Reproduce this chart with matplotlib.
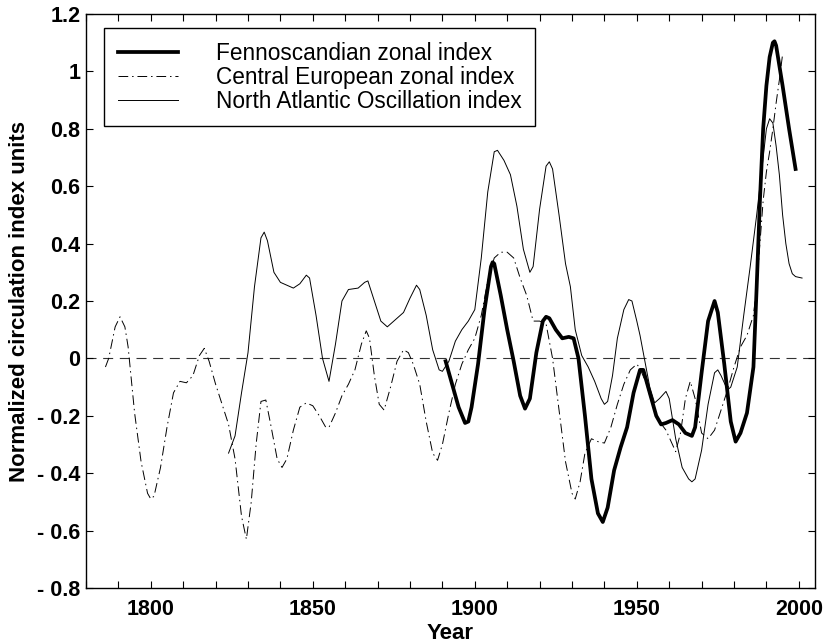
import matplotlib
matplotlib.use("Agg")
import matplotlib.pyplot as plt
from matplotlib.ticker import FixedLocator, FixedFormatter

plt.rcParams['font.family'] = ['Liberation Sans', 'DejaVu Sans']

# ---- data ----
nao_years = [1824, 1826, 1828, 1830, 1832, 1834, 1835, 1836, 1838, 1840, 1842, 1844, 1846, 1848, 1849,
             1851, 1853, 1855, 1857, 1859, 1861, 1864, 1866, 1867, 1869, 1871, 1873, 1875, 1878, 1880,
             1882, 1883, 1885, 1887, 1889, 1890, 1892, 1894, 1896, 1898, 1900, 1902, 1904, 1906, 1907,
             1909, 1911, 1913, 1915, 1917, 1918, 1920, 1922, 1923, 1924, 1926, 1928, 1929.5, 1931, 1933,
             1935, 1937, 1939, 1940, 1941, 1942.5, 1944, 1946, 1947.5, 1948.5, 1950, 1951, 1952.5, 1954,
             1955.5, 1957, 1959, 1960, 1962, 1964, 1966, 1967, 1968, 1970, 1972, 1974, 1975, 1976, 1978,
             1979, 1981, 1983, 1985, 1987, 1989, 1990, 1991, 1992, 1993, 1994, 1995, 1996, 1997, 1998,
             1999, 2001]
nao_values = [-0.33, -0.27, -0.12, 0.02, 0.25, 0.42, 0.44, 0.41, 0.30, 0.265, 0.255, 0.245, 0.26, 0.29, 0.28,
              0.15, 0.0, -0.08, 0.05, 0.20, 0.24, 0.245, 0.265, 0.27, 0.20, 0.13, 0.11, 0.13, 0.16, 0.21,
              0.255, 0.24, 0.15, 0.03, -0.04, -0.045, -0.01, 0.06, 0.10, 0.13, 0.17, 0.35, 0.58, 0.72, 0.725,
              0.69, 0.64, 0.53, 0.38, 0.30, 0.32, 0.52, 0.67, 0.685, 0.66, 0.50, 0.33, 0.25, 0.10, 0.01,
              -0.03, -0.08, -0.14, -0.16, -0.15, -0.06, 0.07, 0.17, 0.205, 0.20, 0.13, 0.08, -0.01, -0.10,
              -0.155, -0.14, -0.115, -0.14, -0.28, -0.38, -0.42, -0.43, -0.42, -0.32, -0.16, -0.05, -0.04, -0.06, -0.11,
              -0.10, -0.03, 0.15, 0.32, 0.50, 0.70, 0.80, 0.835, 0.82, 0.74, 0.64, 0.50, 0.40, 0.33, 0.295,
              0.285, 0.28]

fen_years = [1891, 1893, 1895, 1897, 1898, 1899, 1901, 1903, 1905, 1905.5, 1906, 1908, 1910, 1912, 1914,
             1915.5, 1917, 1919, 1921, 1922, 1923, 1925, 1927, 1929, 1930.5, 1932, 1934, 1936, 1938, 1939.5,
             1941, 1943, 1945, 1947, 1949, 1951, 1952, 1954, 1956, 1957.5, 1959, 1961, 1963, 1965, 1967,
             1968, 1970, 1972, 1974, 1975, 1977, 1979, 1980.5, 1982, 1984, 1986, 1987, 1988, 1989, 1990,
             1991, 1992, 1992.5, 1993, 1994, 1995, 1997, 1999]
fen_values = [-0.01, -0.09, -0.17, -0.225, -0.22, -0.17, -0.02, 0.17, 0.32, 0.335, 0.33, 0.22, 0.10, -0.01, -0.13,
              -0.175, -0.14, 0.02, 0.13, 0.145, 0.14, 0.10, 0.07, 0.075, 0.07, 0.0, -0.20, -0.42, -0.54, -0.57,
              -0.52, -0.39, -0.31, -0.24, -0.12, -0.04, -0.04, -0.12, -0.20, -0.23, -0.225, -0.215, -0.23, -0.26, -0.27,
              -0.24, -0.05, 0.13, 0.20, 0.16, -0.02, -0.22, -0.29, -0.26, -0.19, -0.03, 0.25, 0.55, 0.80, 0.95,
              1.05, 1.10, 1.105, 1.09, 1.02, 0.95, 0.80, 0.66]

ce_years = [1786, 1787, 1789, 1790.5, 1792, 1793, 1795, 1797, 1799, 1800, 1801, 1803, 1805, 1807, 1809,
            1811, 1813, 1815, 1816.5, 1818, 1820, 1822, 1824, 1826, 1828, 1829.5, 1831, 1832.5, 1834, 1835.5,
            1837, 1839, 1840.5, 1842, 1844, 1846, 1848, 1850, 1852, 1854, 1855, 1857, 1859, 1861, 1863,
            1865, 1866.5, 1867.5, 1869, 1870.5, 1872, 1874, 1876, 1878, 1879.5, 1881, 1883, 1885, 1887, 1888.5,
            1890, 1892, 1894, 1896, 1898, 1900, 1902, 1904, 1906, 1908, 1910, 1912, 1914, 1916, 1918,
            1920, 1922, 1924, 1926, 1928, 1930, 1931, 1932.5, 1934, 1936, 1938, 1940, 1942, 1944, 1946,
            1948, 1950, 1951, 1953, 1955, 1957, 1959, 1961, 1962, 1963.5, 1965, 1966.5, 1968, 1970, 1972,
            1974, 1976, 1978, 1980, 1982, 1984, 1986, 1987, 1988, 1989, 1990, 1991, 1992, 1993, 1994, 1995]
ce_values = [-0.03, 0.0, 0.11, 0.145, 0.11, 0.04, -0.19, -0.36, -0.47, -0.49, -0.48, -0.38, -0.24, -0.12, -0.08,
             -0.085, -0.06, 0.01, 0.035, -0.01, -0.09, -0.16, -0.23, -0.35, -0.55, -0.63, -0.50, -0.30, -0.15, -0.145,
             -0.23, -0.35, -0.38, -0.35, -0.25, -0.17, -0.155, -0.165, -0.20, -0.24, -0.24, -0.19, -0.13, -0.09, -0.04,
             0.05, 0.096, 0.07, -0.06, -0.16, -0.18, -0.10, -0.01, 0.03, 0.02, -0.02, -0.09, -0.22, -0.33, -0.355,
             -0.30, -0.19, -0.09, -0.02, 0.03, 0.07, 0.15, 0.27, 0.35, 0.37, 0.37, 0.35, 0.28, 0.22, 0.13,
             0.13, 0.12, 0.0, -0.18, -0.36, -0.47, -0.49, -0.43, -0.33, -0.28, -0.29, -0.295, -0.24, -0.16, -0.09,
             -0.04, -0.02, -0.035, -0.09, -0.17, -0.22, -0.25, -0.30, -0.325, -0.26, -0.14, -0.08, -0.14, -0.26, -0.28,
             -0.25, -0.18, -0.11, -0.03, 0.04, 0.08, 0.15, 0.25, 0.40, 0.55, 0.65, 0.72, 0.80, 0.89, 0.97, 1.06]

labels = ['Fennoscandian zonal index', 'Central European zonal index', 'North Atlantic Oscillation index']
xticks_major = [1800, 1850, 1900, 1950, 2000]
yticks = [-0.8, -0.6, -0.4, -0.2, 0, 0.2, 0.4, 0.6, 0.8, 1.0, 1.2]
ytick_labels = ['- 0.8', '- 0.6', '- 0.4', '- 0.2', '0', '0.2', '0.4', '0.6', '0.8', '1', '1.2']

# ---- figure ----
fig = plt.figure(figsize=(8.26, 6.44), dpi=100)
ax = fig.add_axes([86/826, 56/644, (815-86)/826, (588-14)/644])

ax.axhline(0, color='#333333', lw=0.8, ls=(0, (9, 6)), zorder=1)
l1, = ax.plot(fen_years, fen_values, color='black', lw=2.7, solid_joinstyle='round', zorder=4)
l2, = ax.plot(ce_years, ce_values, color='black', lw=0.7, ls=(0, (10, 4, 1.5, 4)), zorder=3)
l3, = ax.plot(nao_years, nao_values, color='black', lw=0.7, zorder=3)

ax.set_xlim(1780, 2005)
ax.set_ylim(-0.8, 1.2)

xt = list(range(1780, 2001, 10))
ax.xaxis.set_major_locator(FixedLocator(xt))
ax.xaxis.set_major_formatter(FixedFormatter([str(y) if y in xticks_major else '' for y in xt]))
ax.yaxis.set_major_locator(FixedLocator(yticks))
ax.yaxis.set_major_formatter(FixedFormatter(ytick_labels))

ax.tick_params(direction='in', length=5, width=0.8, top=True, right=True, labelsize=15.5)
ax.tick_params(axis='x', pad=8)
ax.tick_params(axis='y', pad=4)
for lab in ax.get_xticklabels() + ax.get_yticklabels():
    lab.set_fontweight('bold')
for s in ax.spines.values():
    s.set_linewidth(1.0)

ax.set_xlabel('Year', fontsize=16, fontweight='bold', labelpad=2)
ax.set_ylabel('Normalized circulation index units', fontsize=16, fontweight='bold', labelpad=5)

leg = ax.legend([l1, l2, l3], labels, loc='upper left', bbox_to_anchor=(0.0247, 0.9756),
                fontsize=16.3, frameon=True, fancybox=False, framealpha=1, edgecolor='black',
                handlelength=2.66, handletextpad=1.67, labelspacing=0.05, borderpad=0.6,
                borderaxespad=0)
leg.get_frame().set_linewidth(1.0)

fig.savefig('out.png', dpi=100)
